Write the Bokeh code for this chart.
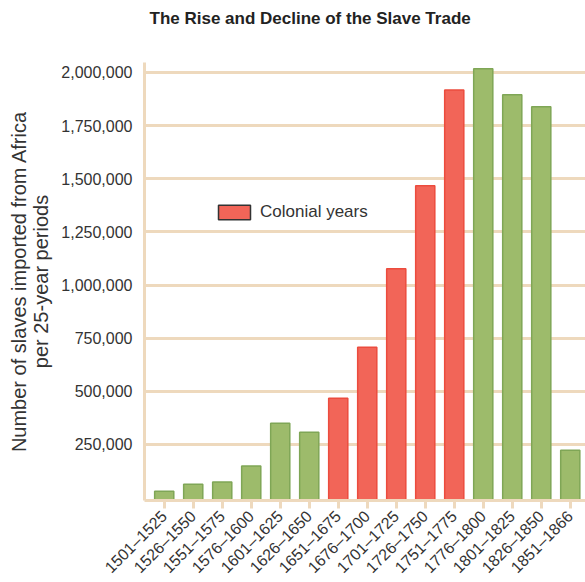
import math
from bokeh.plotting import figure
from bokeh.models import (ColumnDataSource, Range1d, FixedTicker, NumeralTickFormatter, Legend,
                          LegendItem, Title)
from bokeh.embed import file_html
from bokeh.resources import INLINE

periods = ["1501–1525", "1526–1550", "1551–1575", "1576–1600", "1601–1625", "1626–1650",
           "1651–1675", "1676–1700", "1701–1725", "1726–1750", "1751–1775", "1776–1800",
           "1801–1825", "1826–1850", "1851–1866"]
slaves = [30000, 63000, 73000, 148000, 350000, 307000, 467000, 707000, 1077000, 1467000,
          1918000, 2018000, 1895000, 1839000, 223000]
colonial = [False, False, False, False, False, False, True, True, True, True, True,
            False, False, False, False]
y_ticks = [250000, 500000, 750000, 1000000, 1250000, 1500000, 1750000, 2000000]
title_text = "The Rise and Decline of the Slave Trade"
legend_text = "Colonial years"

RED_FILL, RED_LINE = "#f26558", "#ec4c3e"
GREEN_FILL, GREEN_LINE = "#9dbb6b", "#7fa656"
TAN = "#eed9bd"
FONT = "Liberation Sans"
TXT = "#333333"

y_start = -14000
xs = list(range(len(periods)))
src = ColumnDataSource(dict(
    x=xs, top=slaves,
    fill=[RED_FILL if c else GREEN_FILL for c in colonial],
    line=[RED_LINE if c else GREEN_LINE for c in colonial],
))

p = figure(frame_width=442, frame_height=438, output_backend="svg", toolbar_location=None,
           title=None,
           x_range=Range1d(-0.68, len(periods) - 0.44),
           y_range=Range1d(y_start, 2047000),
           min_border_left=0, min_border_right=0, min_border_top=0, min_border_bottom=74)
p.outline_line_color = None
p.background_fill_color = "white"

p.vbar(x="x", top="top", bottom=y_start, width=0.66, source=src,
       fill_color="fill", line_color="line", line_width=1.5)

# legend swatch: hidden renderer with a dark outline, shown only in the legend
leg_src = ColumnDataSource(dict(x=[xs[colonial.index(True)]], top=[slaves[colonial.index(True)]]))
leg_r = p.vbar(x="x", top="top", width=0.66, source=leg_src, visible=False,
               fill_color=RED_FILL, line_color="#333333", line_width=1.5)
legend = Legend(items=[LegendItem(label=legend_text, renderers=[leg_r])],
                location=(70, 278), padding=0, margin=0, border_line_color=None,
                background_fill_alpha=0, glyph_width=40, glyph_height=18,
                inactive_fill_alpha=0,
                label_text_font=FONT, label_text_font_size="17px", label_text_color=TXT,
                label_standoff=6)
p.add_layout(legend, "center")

# spacer between frame and title, then the title itself
spacer = Title(text=" ", text_font=FONT, text_font_size="17px", standoff=8)
p.add_layout(spacer, "above")
main_title = Title(text=title_text, text_font=FONT, text_font_size="17px",
                   text_font_style="bold", text_color="#222222", align="left",
                   offset=5, standoff=12)
p.add_layout(main_title, "above")

# small spacer left of the y axis label
left_spacer = Title(text=" ", text_font=FONT, text_font_size="2px", standoff=1)
p.add_layout(left_spacer, "left")

# x axis
p.xaxis.ticker = FixedTicker(ticks=xs)
p.xaxis.major_label_overrides = {i: s for i, s in enumerate(periods)}
p.xaxis.major_label_orientation = math.pi / 4
p.xaxis.major_label_text_font = FONT
p.xaxis.major_label_text_font_size = "16px"
p.xaxis.major_label_text_color = TXT
p.xaxis.axis_line_color = TAN
p.xaxis.axis_line_width = 3
p.xaxis.major_tick_line_color = TAN
p.xaxis.major_tick_line_width = 3
p.xaxis.major_tick_out = 8
p.xaxis.major_tick_in = 0
p.xaxis.minor_tick_line_color = None
p.xaxis.major_label_standoff = 5

# y axis
p.yaxis.ticker = FixedTicker(ticks=y_ticks)
p.yaxis.formatter = NumeralTickFormatter(format="0,0")
p.yaxis.major_label_text_font = FONT
p.yaxis.major_label_text_font_size = "16px"
p.yaxis.major_label_text_color = TXT
p.yaxis.axis_line_color = TAN
p.yaxis.axis_line_width = 3
p.yaxis.major_tick_line_color = None
p.yaxis.minor_tick_line_color = None
p.yaxis.major_label_standoff = 6
p.yaxis.axis_label = "Number of slaves imported from Africa\nper 25-year periods"
p.yaxis.axis_label_text_font = FONT
p.yaxis.axis_label_text_font_size = "20px"
p.yaxis.axis_label_text_line_height = 1.0
p.yaxis.axis_label_text_font_style = "normal"
p.yaxis.axis_label_text_color = TXT
p.yaxis.axis_label_standoff = 6

p.xgrid.grid_line_color = None
p.ygrid.ticker = FixedTicker(ticks=y_ticks)
p.ygrid.grid_line_color = TAN
p.ygrid.grid_line_width = 3

open("out.html", "w").write(file_html(p, INLINE))
